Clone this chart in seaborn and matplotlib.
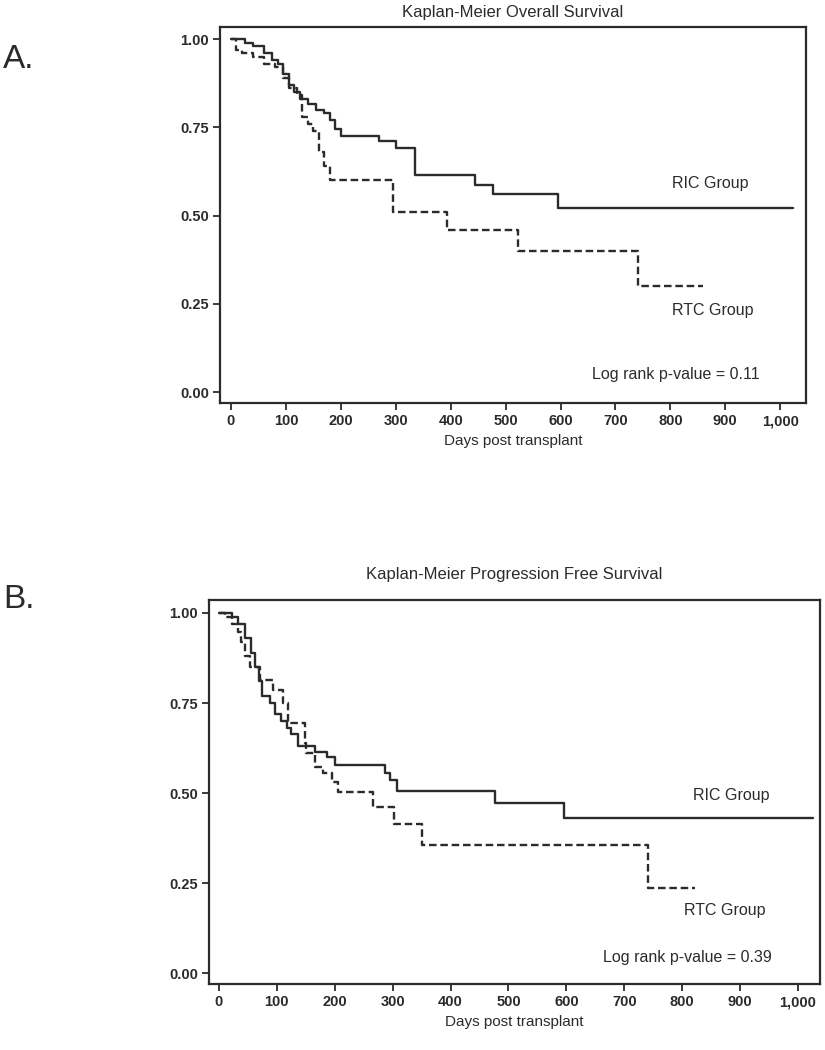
import numpy as np
import pandas as pd
import matplotlib
matplotlib.use("Agg")
import matplotlib.pyplot as plt
import seaborn as sns
from matplotlib.ticker import FuncFormatter

# ---------------- data ----------------
# Panel A: overall survival
A_ric_days = [0, 25, 40, 60, 75, 85, 95, 105, 115, 125, 140, 155, 170, 180, 190, 200, 270, 300, 335, 444, 477, 596, 1024]
A_ric_surv = [1.0, 0.99, 0.98, 0.96, 0.94, 0.93, 0.90, 0.87, 0.85, 0.83, 0.815, 0.80, 0.79, 0.77, 0.745, 0.725, 0.71, 0.69, 0.615, 0.586, 0.56, 0.52, 0.52]
A_rtc_days = [0, 10, 20, 40, 60, 80, 95, 105, 120, 130, 140, 150, 160, 170, 180, 295, 393, 523, 741, 860]
A_rtc_surv = [1.0, 0.97, 0.96, 0.95, 0.93, 0.92, 0.89, 0.86, 0.84, 0.78, 0.76, 0.74, 0.68, 0.64, 0.60, 0.51, 0.46, 0.40, 0.30, 0.30]

# Panel B: progression free survival
B_ric_days = [0, 22, 33, 45, 55, 63, 70, 74, 88, 97, 107, 117, 125, 137, 166, 186, 200, 287, 295, 307, 477, 596, 1026]
B_ric_surv = [1.0, 0.99, 0.97, 0.93, 0.89, 0.85, 0.81, 0.77, 0.75, 0.72, 0.70, 0.68, 0.665, 0.63, 0.615, 0.60, 0.578, 0.555, 0.535, 0.505, 0.472, 0.43, 0.43]
B_rtc_days = [0, 10, 22, 33, 39, 46, 53, 71, 94, 111, 120, 149, 151, 166, 180, 195, 206, 267, 303, 351, 741, 822]
B_rtc_surv = [1.0, 0.99, 0.97, 0.948, 0.92, 0.88, 0.85, 0.814, 0.786, 0.749, 0.694, 0.638, 0.61, 0.573, 0.555, 0.531, 0.504, 0.46, 0.415, 0.356, 0.236, 0.236]

groups = ["RIC Group", "RTC Group"]
x_ticks = [0, 100, 200, 300, 400, 500, 600, 700, 800, 900, 1000]
y_ticks = [0.00, 0.25, 0.50, 0.75, 1.00]
titles = ["Kaplan-Meier Overall Survival", "Kaplan-Meier Progression Free Survival"]
panel_tags = ["A.", "B."]
pvalues = ["Log rank p-value = 0.11", "Log rank p-value = 0.39"]
x_label = "Days post transplant"

# ---------------- style ----------------
sns.set_style("ticks")
plt.rcParams['font.family'] = ['Liberation Sans', 'DejaVu Sans']
NARROW = ['Liberation Sans Narrow', 'Liberation Sans', 'DejaVu Sans']
INK = "#2b2b2b"

fig = plt.figure(figsize=(8.25, 10.5), dpi=100)
W, H = 825.0, 1050.0

def frac_rect(x0, y0, x1, y1):
    return [x0 / W, 1 - y1 / H, (x1 - x0) / W, (y1 - y0) / H]

axA = fig.add_axes(frac_rect(220, 27, 806, 403))
axB = fig.add_axes(frac_rect(209, 600, 820, 984))

def draw_panel(ax, ric_d, ric_s, rtc_d, rtc_s, xlim, ylim, ric_lab_xy, rtc_lab_xy, p_xy, ptext):
    df = pd.concat([
        pd.DataFrame({"days": ric_d, "surv": ric_s, "group": groups[0]}),
        pd.DataFrame({"days": rtc_d, "surv": rtc_s, "group": groups[1]}),
    ], ignore_index=True)
    sns.lineplot(data=df, x="days", y="surv", hue="group", style="group",
                 palette={groups[0]: INK, groups[1]: INK},
                 dashes={groups[0]: "", groups[1]: (3.2, 1.6)},
                 drawstyle="steps-post", estimator=None, sort=False,
                 legend=False, linewidth=1.7, ax=ax)
    ax.set_xlim(*xlim)
    ax.set_ylim(*ylim)
    ax.set_xticks(x_ticks)
    ax.set_yticks(y_ticks)
    ax.xaxis.set_major_formatter(FuncFormatter(lambda v, p: f"{int(v):,}"))
    ax.yaxis.set_major_formatter(FuncFormatter(lambda v, p: f"{v:.2f}"))
    ax.tick_params(direction="out", length=5, width=1.3, colors=INK, labelsize=10.5, pad=3)
    for lab in ax.get_xticklabels() + ax.get_yticklabels():
        lab.set_family(NARROW)
        lab.set_weight("bold")
    for sp in ax.spines.values():
        sp.set_visible(True)
        sp.set_linewidth(1.6)
        sp.set_color(INK)
    ax.set_xlabel(x_label, fontsize=11, color=INK, labelpad=4, family=NARROW)
    ax.set_ylabel("")
    ax.text(ric_lab_xy[0], ric_lab_xy[1], groups[0], fontsize=11.5, color=INK, va="center", ha="left")
    ax.text(rtc_lab_xy[0], rtc_lab_xy[1], groups[1], fontsize=11.5, color=INK, va="center", ha="left")
    ax.text(p_xy[0], p_xy[1], ptext, fontsize=11.5, color=INK, va="center", ha="center", family=NARROW)

draw_panel(axA, A_ric_days, A_ric_surv, A_rtc_days, A_rtc_surv,
           (-20, 1047), (-0.031, 1.034), (803, 0.592), (803, 0.232), (810, 0.05), pvalues[0])
draw_panel(axB, B_ric_days, B_ric_surv, B_rtc_days, B_rtc_surv,
           (-17, 1038), (-0.03, 1.036), (819, 0.494), (803, 0.175), (809, 0.044), pvalues[1])

# titles and panel tags
fig.text((220 + 806) / 2 / W, 1 - 13 / H, titles[0], fontsize=12, color=INK, ha="center", va="center")
fig.text((209 + 820) / 2 / W, 1 - 575 / H, titles[1], fontsize=12, color=INK, ha="center", va="center")
fig.text(3 / W, 1 - 60 / H, panel_tags[0], fontsize=24, color=INK, ha="left", va="center")
fig.text(3 / W, 1 - 600 / H, panel_tags[1], fontsize=24, color=INK, ha="left", va="center")

fig.savefig("out.png", dpi=100, facecolor="white")
